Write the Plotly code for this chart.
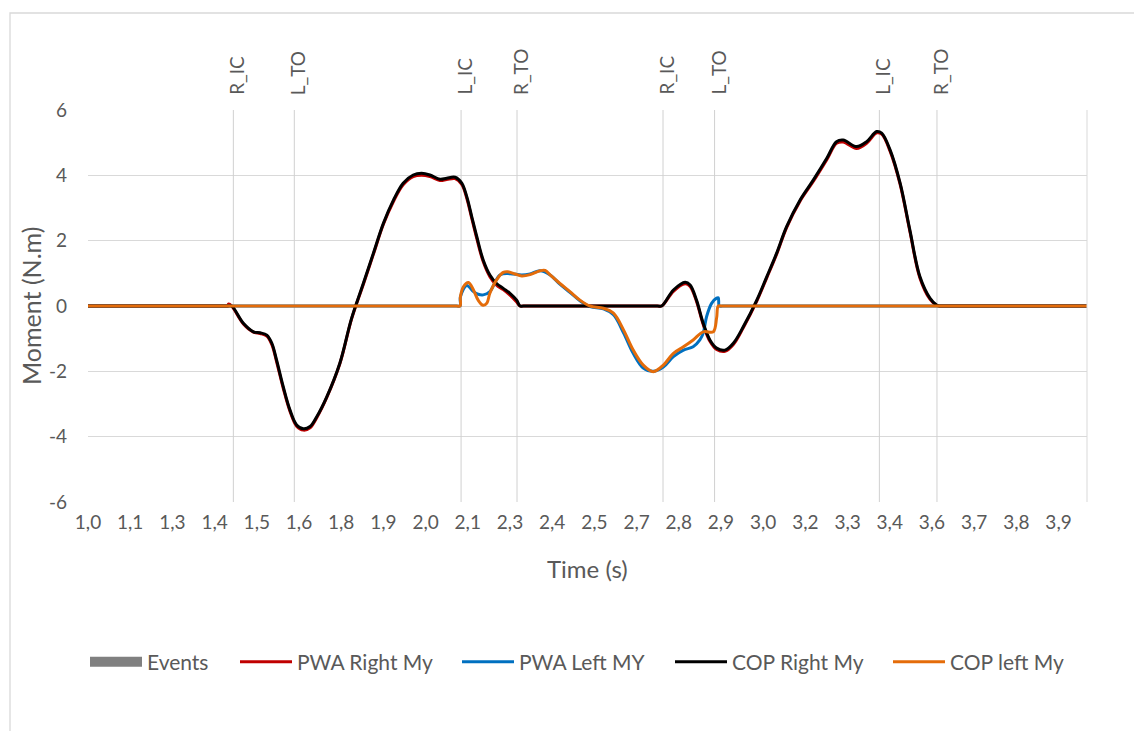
import plotly.graph_objects as go

# ---------------- data ----------------
tick_labels = ["1,0", "1,1", "1,3", "1,4", "1,5", "1,6", "1,8", "1,9", "2,0", "2,1", "2,3", "2,4",
               "2,5", "2,7", "2,8", "2,9", "3,0", "3,2", "3,3", "3,4", "3,6", "3,7", "3,8", "3,9"]
tick_step = 0.126
t_start = 1.0
t_end = 3.983

y_ticks = [-6, -4, -2, 0, 2, 4, 6]
y_tick_labels = ["-6", "-4", "-2", "0", "2", "4", "6"]

event_times = [1.434, 1.616, 2.114, 2.281, 2.717, 2.871, 3.363, 3.535]
event_names = ["R_IC", "L_TO", "L_IC", "R_TO", "R_IC", "L_TO", "L_IC", "R_TO"]

cop_right_t = [1.000, 1.010, 1.410, 1.416, 1.420, 1.429, 1.464, 1.494, 1.514, 1.534, 1.549, 1.563,
               1.583, 1.603, 1.623, 1.643, 1.663, 1.683, 1.713, 1.752, 1.787, 1.822, 1.852, 1.882,
               1.912, 1.941, 1.971, 1.996, 2.021, 2.051, 2.071, 2.096, 2.116, 2.131, 2.146, 2.161,
               2.180, 2.200, 2.220, 2.240, 2.260, 2.280, 2.290, 2.300, 2.700, 2.713, 2.748, 2.783,
               2.798, 2.817, 2.837, 2.857, 2.877, 2.902, 2.927, 2.957, 2.997, 3.027, 3.056, 3.086,
               3.126, 3.166, 3.206, 3.235, 3.255, 3.295, 3.325, 3.355, 3.370, 3.395, 3.425, 3.454,
               3.484, 3.514, 3.534, 3.544, 3.555, 3.970, 3.983]
cop_right_v = [0, 0, 0, 0, 0, 0, -0.53, -0.79, -0.82, -0.89, -1.14, -1.65,
               -2.47, -3.18, -3.64, -3.76, -3.69, -3.39, -2.78, -1.75, -0.38, 0.69, 1.61, 2.53,
               3.24, 3.76, 4.01, 4.06, 4.01, 3.88, 3.91, 3.94, 3.76, 3.35, 2.73, 2.12,
               1.41, 0.95, 0.69, 0.54, 0.39, 0.18, 0, 0, 0, 0, 0.49, 0.73,
               0.64, 0.18, -0.53, -1.04, -1.29, -1.35, -1.14, -0.63, 0.18, 0.90, 1.61, 2.43,
               3.24, 3.86, 4.52, 5.03, 5.08, 4.88, 5.03, 5.34, 5.29, 4.78, 3.76, 2.33,
               0.90, 0.24, 0.03, 0, 0, 0, 0]

pwa_right_t = cop_right_t
pwa_right_v = [0, 0, 0, 0, 0.06, 0, -0.55, -0.80, -0.84, -0.92, -1.18, -1.70,
               -2.52, -3.22, -3.68, -3.80, -3.73, -3.42, -2.80, -1.77, -0.40, 0.66, 1.58, 2.50,
               3.20, 3.71, 3.96, 4.00, 3.96, 3.84, 3.87, 3.90, 3.72, 3.30, 2.68, 2.06,
               1.36, 0.90, 0.64, 0.50, 0.33, 0.12, 0, 0, 0, 0, 0.45, 0.68,
               0.60, 0.14, -0.57, -1.08, -1.33, -1.39, -1.18, -0.66, 0.15, 0.87, 1.58, 2.40,
               3.21, 3.82, 4.48, 4.98, 5.02, 4.82, 4.98, 5.30, 5.26, 4.74, 3.72, 2.29,
               0.86, 0.21, 0.02, 0, 0, 0, 0]

pwa_left_t = [1.000, 1.010, 2.100, 2.111, 2.112, 2.131, 2.151, 2.165, 2.180, 2.200, 2.230, 2.260,
              2.295, 2.320, 2.350, 2.380, 2.409, 2.439, 2.469, 2.499, 2.539, 2.569, 2.599, 2.628,
              2.658, 2.688, 2.718, 2.748, 2.778, 2.807, 2.827, 2.837, 2.847, 2.862, 2.877, 2.882,
              2.885, 2.895, 3.970, 3.983]
pwa_left_v = [0, 0, 0, 0, 0.28, 0.63, 0.44, 0.36, 0.34, 0.44, 0.95, 0.99,
              0.95, 0.98, 1.08, 0.95, 0.67, 0.42, 0.16, -0.02, -0.09, -0.27, -0.82, -1.45,
              -1.90, -2.00, -1.87, -1.55, -1.35, -1.25, -1.04, -0.83, -0.33, 0.08, 0.24, 0.25,
              0, 0, 0, 0]

cop_left_t = [1.000, 1.010, 2.100, 2.111, 2.112, 2.121, 2.136, 2.151, 2.165, 2.180, 2.191, 2.200,
              2.220, 2.240, 2.254, 2.275, 2.295, 2.320, 2.350, 2.365, 2.380, 2.409, 2.439, 2.469,
              2.499, 2.539, 2.569, 2.599, 2.628, 2.658, 2.688, 2.718, 2.748, 2.778, 2.807, 2.837,
              2.867, 2.877, 2.882, 2.892, 3.970, 3.983]
cop_left_v = [0, 0, 0, 0, 0.28, 0.59, 0.72, 0.49, 0.18, 0.02, 0.09, 0.39,
              0.80, 1.03, 1.05, 0.98, 0.92, 0.96, 1.08, 1.09, 0.95, 0.69, 0.44, 0.18,
              0, -0.07, -0.22, -0.73, -1.35, -1.81, -2.01, -1.81, -1.45, -1.25, -1.04, -0.79,
              -0.79, -0.37, 0, 0, 0, 0]

# ---------------- layout constants ----------------
W, H = 1134, 731
PL, PR, PT, PB = 88, 1087, 110, 502   # plot area in pixels
FONT = "Lato"
TXT = "#595959"
GRID = "#d9d9d9"
LEGEND_PX = [85, 235, 457, 670, 888]   # left edge of each legend entry (pixels)


def px_x(px):
    return (px - PL) / (PR - PL)


def px_y(py):
    return (PB - py) / (PB - PT)


fig = go.Figure()

# Events: vertical lines + legend entry
ev_x, ev_y = [], []
for t in event_times:
    ev_x += [t, t, None]
    ev_y += [-6, 6, None]
fig.add_trace(go.Scatter(x=ev_x, y=ev_y, mode="lines", line=dict(color="#d0d0d0", width=1),
                         showlegend=False, hoverinfo="skip"))
fig.add_trace(go.Scatter(x=[None], y=[None], mode="lines", name="Events",
                         line=dict(color="#808080", width=15), legend="legend"))

line_kw = dict(mode="lines", line_shape="spline")
fig.add_trace(go.Scatter(x=pwa_right_t, y=pwa_right_v, name="PWA Right My", legend="legend2",
                         line=dict(color="#C00000", width=3, smoothing=1), **line_kw))
fig.add_trace(go.Scatter(x=pwa_left_t, y=pwa_left_v, name="PWA Left MY", legend="legend3",
                         line=dict(color="#0070C0", width=3, smoothing=1), **line_kw))
fig.add_trace(go.Scatter(x=cop_right_t, y=cop_right_v, name="COP Right My", legend="legend4",
                         line=dict(color="#000000", width=3, smoothing=1), **line_kw))
fig.add_trace(go.Scatter(x=cop_left_t, y=cop_left_v, name="COP left My", legend="legend5",
                         line=dict(color="#E46C0A", width=3, smoothing=1), **line_kw))

tickvals = [t_start + i * tick_step for i in range(len(tick_labels))]

annotations = []
for t, name in zip(event_times, event_names):
    annotations.append(dict(x=t, y=6, xref="x", yref="y", text=name, textangle=-90,
                            showarrow=False, xanchor="center", yanchor="bottom", yshift=13,
                            xshift=3, font=dict(family=FONT, size=19, color=TXT)))
annotations.append(dict(x=0.5, y=0, xref="paper", yref="paper", text="Time (s)", showarrow=False,
                        xanchor="center", yanchor="middle", yshift=-66,
                        font=dict(family=FONT, size=24, color=TXT)))
annotations.append(dict(x=0, y=0.5, xref="paper", yref="paper", text="Moment (N.m)",
                        showarrow=False, textangle=-90, xanchor="center", yanchor="middle",
                        xshift=-57, font=dict(family=FONT, size=25, color=TXT)))

shapes = [
    dict(type="line", xref="paper", yref="y", x0=1, x1=1, y0=-6, y1=6,
         line=dict(color=GRID, width=1)),
    dict(type="rect", xref="paper", yref="paper", x0=px_x(10), y0=px_y(13), x1=px_x(1150),
         y1=px_y(745), line=dict(color="#d9d9d9", width=1.3), fillcolor="rgba(0,0,0,0)"),
]

legend_common = dict(orientation="h", yanchor="middle", xanchor="left",
                     font=dict(family=FONT, size=21, color=TXT),
                     itemwidth=52, bgcolor="rgba(0,0,0,0)")
legends = {}
for i, lx in enumerate(LEGEND_PX):
    key = "legend" if i == 0 else f"legend{i + 1}"
    legends[key] = dict(x=px_x(lx), y=px_y(662), **legend_common)

fig.update_layout(
    width=W, height=H,
    margin=dict(l=PL, r=W - PR, t=PT, b=H - PB),
    paper_bgcolor="white", plot_bgcolor="white",
    font=dict(family=FONT, color=TXT),
    showlegend=True,
    xaxis=dict(range=[t_start, t_end], tickvals=tickvals, ticktext=tick_labels,
               showgrid=False, zeroline=False, showline=False, ticks="",
               tickfont=dict(family=FONT, size=19, color=TXT), ticklabelstandoff=7),
    yaxis=dict(range=[-6, 6], tickvals=y_ticks, ticktext=y_tick_labels,
               showgrid=True, gridcolor=GRID, gridwidth=1,
               zeroline=False, showline=False, ticks="",
               tickfont=dict(family=FONT, size=19, color=TXT), ticklabelstandoff=20),
    annotations=annotations,
    shapes=shapes,
    **legends,
)

fig.write_html("out.html")
